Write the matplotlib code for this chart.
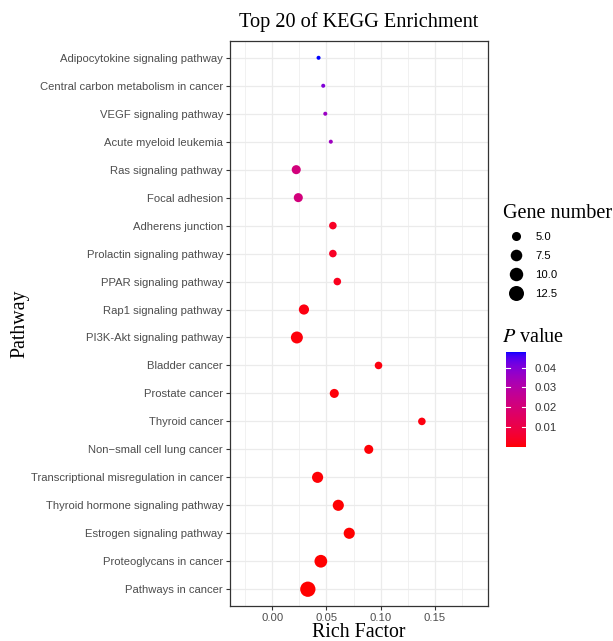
import numpy as np
import matplotlib
matplotlib.use("Agg")
import matplotlib.pyplot as plt
from matplotlib.colors import ListedColormap, Normalize
from matplotlib.lines import Line2D

# Daten (von oben nach unten wie im Bild)
pathways = [
    "Adipocytokine signaling pathway",
    "Central carbon metabolism in cancer",
    "VEGF signaling pathway",
    "Acute myeloid leukemia",
    "Ras signaling pathway",
    "Focal adhesion",
    "Adherens junction",
    "Prolactin signaling pathway",
    "PPAR signaling pathway",
    "Rap1 signaling pathway",
    "PI3K-Akt signaling pathway",
    "Bladder cancer",
    "Prostate cancer",
    "Thyroid cancer",
    "Non\u2212small cell lung cancer",
    "Transcriptional misregulation in cancer",
    "Thyroid hormone signaling pathway",
    "Estrogen signaling pathway",
    "Proteoglycans in cancer",
    "Pathways in cancer",
]
rich_factor = [0.0427, 0.047, 0.0489, 0.054, 0.0221, 0.024, 0.0559, 0.0559, 0.060, 0.0292,
               0.0227, 0.098, 0.0572, 0.138, 0.089, 0.0418, 0.0609, 0.071, 0.0448, 0.0328]
gene_number = [3, 3, 3, 3, 5, 5, 4, 4, 4, 6, 8, 4, 5, 4, 5, 7, 7, 7, 9, 13]
p_value = [0.0478, 0.040, 0.036, 0.035, 0.021, 0.021, 0.004, 0.004, 0.003, 0.0015,
           0.0008, 0.0012, 0.0008, 0.0012, 0.0005, 0.0004, 0.0003, 0.0002, 0.0002, 0.00002]
size_breaks = [5.0, 7.5, 10.0, 12.5]
p_breaks = [0.01, 0.02, 0.03, 0.04]


# Farbverlauf rot -> blau im Lab-Raum (wie ggplot)
def srgb_to_lab(rgb):
    c = np.asarray(rgb, float)
    c = np.where(c <= 0.04045, c / 12.92, ((c + 0.055) / 1.055) ** 2.4)
    m = np.array([[0.4124, 0.3576, 0.1805], [0.2126, 0.7152, 0.0722], [0.0193, 0.1192, 0.9505]])
    xyz = m @ c / np.array([0.95047, 1.0, 1.08883])
    f = np.where(xyz > 0.008856, np.cbrt(xyz), 7.787 * xyz + 16 / 116)
    return np.array([116 * f[1] - 16, 500 * (f[0] - f[1]), 200 * (f[1] - f[2])])


def lab_to_srgb(lab):
    L, a, b = lab
    fy = (L + 16) / 116
    fx = fy + a / 500
    fz = fy - b / 200
    f = np.array([fx, fy, fz])
    xyz = np.where(f ** 3 > 0.008856, f ** 3, (f - 16 / 116) / 7.787) * np.array([0.95047, 1.0, 1.08883])
    m = np.array([[3.2406, -1.5372, -0.4986], [-0.9689, 1.8758, 0.0415], [0.0557, -0.2040, 1.0570]])
    c = m @ xyz
    c = np.where(c <= 0.0031308, 12.92 * c, 1.055 * np.clip(c, 0, None) ** (1 / 2.4) - 0.055)
    return np.clip(c, 0, 1)


lab_lo = srgb_to_lab([1, 0, 0])
lab_hi = srgb_to_lab([0, 0, 1])
cmap = ListedColormap([lab_to_srgb(lab_lo + t * (lab_hi - lab_lo)) for t in np.linspace(0, 1, 256)])
norm = Normalize(vmin=min(p_value), vmax=max(p_value))


def point_size(n):
    # ggplot scale_size (area), Bereich 1..6, in Punkt-Durchmesser umgerechnet
    n = np.asarray(n, float)
    s = 1 + 5 * np.sqrt((n - min(gene_number)) / (max(gene_number) - min(gene_number)))
    return 1.62 * s + 1.28


plt.rcParams['font.family'] = ['Liberation Sans', 'DejaVu Sans']
plt.rcParams['mathtext.fontset'] = 'stix'

fig = plt.figure(figsize=(6.13, 6.41), dpi=100)
W, H = 613, 641
ax = fig.add_axes([230 / W, 1 - 606 / H, 258 / W, 565 / H])

ypos = np.arange(len(pathways))
ax.scatter(rich_factor, ypos, s=point_size(gene_number) ** 2, c=p_value, cmap=cmap, norm=norm,
           linewidths=0, zorder=3)

ax.set_xlim(-0.039, 0.199)
ax.set_ylim(len(pathways) - 0.4, -0.6)
ax.set_yticks(ypos)
ax.set_yticklabels(pathways)
ax.set_xticks([0.0, 0.05, 0.10, 0.15])
ax.set_xticklabels(["0.00", "0.05", "0.10", "0.15"])
ax.set_xticks([-0.025, 0.025, 0.075, 0.125, 0.175], minor=True)
ax.tick_params(axis='both', which='major', labelsize=8.15, labelcolor='#4D4D4D', color='#333333',
               length=3, width=0.8, pad=2)
ax.tick_params(axis='x', which='minor', length=0)
ax.grid(True, which='major', color='#EBEBEB', linewidth=0.9, zorder=0)
ax.grid(True, which='minor', axis='x', color='#EBEBEB', linewidth=0.5, zorder=0)
ax.set_axisbelow(True)
for sp in ax.spines.values():
    sp.set_color('#333333')
    sp.set_linewidth(0.9)

serif = ['Liberation Serif', 'DejaVu Serif']
ax.set_title("Top 20 of KEGG Enrichment", family=serif, fontsize=14.6, pad=10)
ax.set_xlabel("Rich Factor", family=serif, fontsize=14.3, labelpad=0)
ax.set_ylabel("Pathway", family=serif, fontsize=14.3)
ax.yaxis.set_label_coords(-0.776, 0.5)

# Legende Gene number
handles = [Line2D([], [], linestyle='none', marker='o', color='black', markeredgewidth=0,
                  markersize=float(point_size(b))) for b in size_breaks]
leg = fig.legend(handles, [f"{b:.1f}" for b in size_breaks], title="Gene number",
                 loc='upper left', bbox_to_anchor=(498 / W, 1 - 199 / H), frameon=False,
                 fontsize=8.15, title_fontproperties={'family': serif, 'size': 14.5},
                 labelspacing=0.8, handletextpad=0.49, handlelength=2.4, borderaxespad=0)
leg._legend_box.align = 'left'

# Farbskala P value
fig.text(502 / W, 1 - 338 / H, r"$\mathit{P}$ value", family=serif, fontsize=14.5, va='center',
         math_fontfamily='stix')
cax = fig.add_axes([506 / W, 1 - 447 / H, 20 / W, 95 / H])
cb = fig.colorbar(plt.cm.ScalarMappable(norm=norm, cmap=cmap), cax=cax)
cb.outline.set_visible(False)
cb.set_ticks(p_breaks)
cb.set_ticklabels([f"{b:.2f}" for b in p_breaks])
cax.tick_params(axis='y', length=0, labelsize=8.15, labelcolor='#333333', pad=6)
for b in p_breaks:
    cax.plot([0, 0.22], [b, b], color='white', lw=0.8, transform=cax.get_yaxis_transform())
    cax.plot([0.78, 1], [b, b], color='white', lw=0.8, transform=cax.get_yaxis_transform())

fig.savefig("out.png", dpi=100)
